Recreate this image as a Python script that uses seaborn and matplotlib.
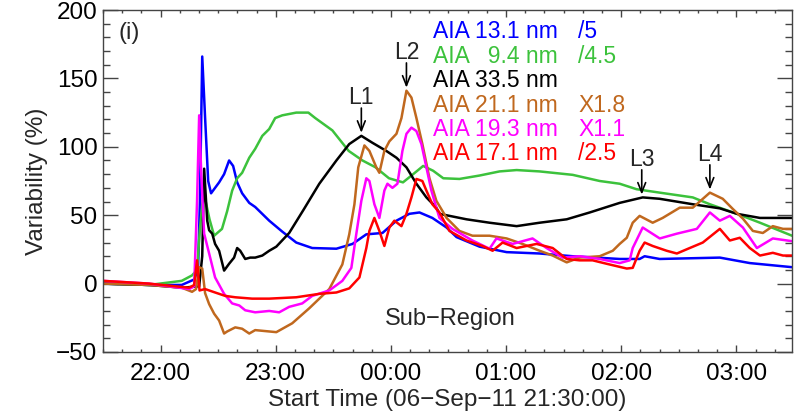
# Variability curves for the six AIA bands (sub-region), 06-Sep-11 flare
import seaborn as sns
import matplotlib.pyplot as plt
import matplotlib.dates as mdates
import pandas as pd
import numpy as np

# minutes after 21:30:00 and variability (%)
blue_t = [0, 24, 41, 47.5, 49.5, 50.5, 51.7, 53.2, 54.8, 56.3, 60.5, 63.1, 65.7, 67.8, 69.9, 72.5, 76.2, 79.3,
          86.6, 93.4, 100.7, 109, 121.6, 130, 137.2, 145.6, 152.9, 159.6, 164.9, 171.6, 179, 184.2, 196.2,
          210.3, 227.5, 244.7, 269.2, 279.6, 282.2, 290, 321.4, 337, 359]
blue_v = [0, -1, -1, 3, 10, 60, 166, 121, 75, 66, 74, 80, 90, 86, 74, 66, 59, 56,
          46, 38, 30, 26, 25.5, 29, 36, 37, 46, 51, 52, 48, 41, 34, 27,
          23, 22, 20, 18, 18, 20, 18, 19, 15, 12]

green_t = [0, 24, 41, 46.4, 49, 50.5, 52, 53.5, 55.5, 57.9, 62, 64.7, 67.3, 69.9, 72.5, 76.2, 79.3, 83, 86.6,
           89.7, 93.4, 100.7, 107, 110.6, 119.5, 128, 135.2, 142, 149, 156.3, 161.6, 166.8, 172, 177.3, 185.7,
           196.2, 206.6, 215.5, 227.5, 244.7, 258.8, 269.2, 278, 290, 307.3, 316.2, 330.3, 342.3, 359]
green_v = [0, -1, 2, 6, 10, 40, 62, 60, 47, 35, 40, 53, 68, 77, 81, 92, 98.5, 108, 113,
           121, 123, 125, 125, 121, 112, 97, 90, 85, 77, 74, 80, 86, 82.5, 77, 76.5,
           79, 82, 83, 82, 79.5, 75, 73, 69, 66.5, 63, 58, 51, 44.5, 35]

black_t = [0, 24, 41.2, 50.1, 51.7, 52.7, 54.3, 55.3, 56.9, 58.4, 60.5, 63.1, 65.7, 68.3, 69.9, 71.5, 74.1,
           76.7, 79.3, 83, 86.6, 90.3, 97, 104.5, 112.7, 121.6, 128.3, 134.6, 140.3, 147.6, 152.9, 158.1,
           163.3, 168.5, 173.7, 175.3, 189.4, 201.4, 215.5, 227.5, 241.6, 253.6, 269.2, 281.2, 290, 307.3,
           321.4, 330.3, 342.3, 359]
black_v = [0, -1, -3, -2, 20, 84, 46, 39, 36.5, 29, 24, 9.5, 14.5, 19, 26, 24, 18,
           19, 19, 20.5, 24, 27, 37, 54, 73, 90, 102, 108, 103, 97, 92, 85,
           73, 63, 55.5, 51, 47, 44.5, 42, 44.5, 47, 52, 59, 63, 62, 58,
           55, 51, 48, 48]

orange_t = [0, 24, 41, 46.4, 48.5, 50.1, 51.7, 53.2, 55.3, 57.9, 60.5, 63.1, 64.7, 68.9, 72.5, 76.2, 79.3,
            86.6, 90.3, 98.6, 107.5, 117.9, 124.7, 128.3, 131, 133, 136.2, 138.8, 142.4, 144, 146.6, 149.2,
            152.9, 155.5, 158.1, 160.7, 163.3, 166.4, 170.1, 173.7, 176.9, 179, 185.7, 192.5, 201.4, 210.3,
            218.6, 227.5, 234.3, 241.6, 248.3, 258.8, 265.6, 269.2, 272.9, 276, 279.6, 286.4, 291.6, 300.5,
            307.3, 316.2, 322.9, 328.2, 333.4, 338.6, 343.8, 349, 354.3, 359]
orange_v = [0, -1, -3, -6, -4, 12, 11, -7, -15, -22, -27, -36.5, -35, -32, -33, -36.5, -34,
            -35, -35.5, -29, -18, -4, 14, 36, 58, 85, 101, 97, 85, 81, 97, 104,
            109.5, 121, 141, 136, 121, 102, 77, 60.5, 53, 48, 38.5, 35, 35, 33,
            29, 24, 20.5, 15.5, 19, 20, 24, 29, 33.5, 44.5, 49.5, 44.5, 48, 55.5,
            55.5, 66.5, 62, 54.5, 47.5, 38.5, 37, 42, 40, 40]

magenta_t = [0, 24, 44.9, 47.5, 49, 50.1, 51.2, 52.7, 55.3, 58.4, 63.1, 67.3, 71, 74.1, 79.3, 86.6, 91.8,
             97, 103.8, 109, 117.9, 124.7, 129.4, 132, 134.6, 137.2, 138.8, 141.4, 144, 146.6, 148.2, 150.8,
             153.4, 156, 158.1, 160.7, 163.3, 165.9, 168.5, 171.1, 173.7, 175.3, 182.1, 192.5, 201.4, 205,
             213.4, 223.8, 231.1, 239.5, 248.3, 258.8, 269.2, 274.4, 276, 281.2, 290.1, 299, 309.4, 316.2,
             321.4, 326.6, 333.4, 340.7, 349, 359]
magenta_v = [2, 0, -4, -2, 60, 123, 80, 36.5, 22, 4.5, -7.5, -14.5, -16, -19.5, -21, -20, -21,
             -17, -14.5, -9, -5, 2, 11.5, 36.5, 60.5, 77, 75, 58, 48, 68, 73, 70,
             73, 97, 109.5, 114, 111.5, 102, 85, 68, 55.5, 48, 40, 31.5, 25.5, 33,
             29, 33, 26, 19, 20, 18, 15, 17, 26, 41, 33, 36.5, 40, 52,
             46, 49.5, 41, 26, 33, 31]

red_t = [0, 24, 44.9, 47.5, 49, 50.3, 53.2, 58.4, 63.7, 68.9, 77.7, 86.6, 100.7, 112.7, 121.6, 128.3, 133.6,
         137.2, 138.8, 141.4, 144, 146.6, 149.2, 151.8, 155.5, 158.1, 160.7, 163.3, 166.4, 168.5, 171.6,
         175.3, 180.5, 189.4, 197.7, 203, 208.2, 215.5, 225.9, 234.3, 241.6, 248.3, 255.1, 262.4, 272.9,
         276, 279.6, 282.2, 286.4, 293.7, 299, 305.7, 312.5, 321.4, 326.6, 331.8, 337, 342.3, 349, 354.3, 359]
red_v = [2, 0, -3, -1, 17, -5, -4, -6.5, -9, -10, -11, -11, -10, -7.5, -6.5, -3.5, 4.5,
         26, 38.5, 48, 38.5, 27.5, 41, 46, 42, 51, 63, 76.5, 75, 68, 58,
         52, 38.5, 31.5, 27.5, 24, 30, 26, 29, 26, 18, 17, 17, 14.5, 11,
         11.5, 24, 30, 27.5, 24, 22, 26, 30, 40, 31.5, 33.5, 26, 20.5, 22.5, 20.5, 20.5]

bands = ['13.1', '9.4', '33.5', '21.1', '19.3', '17.1']
band_labels = ['AIA 13.1 nm', 'AIA   9.4 nm', 'AIA 33.5 nm', 'AIA 21.1 nm', 'AIA 19.3 nm', 'AIA 17.1 nm']
band_factors = ['/5', '/4.5', '', 'X1.8', 'X1.1', '/2.5']
colors = ['#0000ff', '#3cc23c', '#000000', '#c0681e', '#ff00ff', '#ff0000']
series = [(blue_t, blue_v), (green_t, green_v), (black_t, black_v),
          (orange_t, orange_v), (magenta_t, magenta_v), (red_t, red_v)]

# features marked with arrows: label, band, minutes after start
marks = [('L1', '33.5', 134.6), ('L2', '21.1', 158.1), ('L3', '33.5', 280.7), ('L4', '21.1', 316.2)]

start = pd.Timestamp('2011-09-06 21:30:00')

frames = []
for b, (t, v) in zip(bands, series):
    frames.append(pd.DataFrame({'time': start + pd.to_timedelta(t, unit='min'), 'var': v, 'band': b}))
df = pd.concat(frames, ignore_index=True)

sns.set_style('ticks')
plt.rcParams['font.family'] = ['Liberation Sans', 'DejaVu Sans']

fig = plt.figure(figsize=(7.96, 4.17), dpi=100)
ax = fig.add_axes([0.1294, 0.1559, 0.8656, 0.8201])

sns.lineplot(data=df, x='time', y='var', hue='band', hue_order=bands,
             palette=dict(zip(bands, colors)), estimator=None, sort=False,
             linewidth=1.8, legend=False, ax=ax)

ax.set_xlim(start, start + pd.Timedelta(minutes=359))
ax.set_ylim(-50, 200)
ax.xaxis.set_major_locator(mdates.HourLocator())
ax.xaxis.set_minor_locator(mdates.MinuteLocator(byminute=range(0, 60, 10)))
ax.xaxis.set_major_formatter(mdates.DateFormatter('%H:%M'))
ax.yaxis.set_major_locator(plt.MultipleLocator(50))
ax.yaxis.set_minor_locator(plt.MultipleLocator(10))

edge = '#444444'
for s in ax.spines.values():
    s.set_color(edge)
    s.set_linewidth(1.0)
ax.tick_params(axis='both', which='both', direction='in', top=True, right=True, colors=edge,
               labelcolor='black', labelsize=17.5)
ax.tick_params(axis='x', which='major', length=5, width=1, pad=8)
ax.tick_params(axis='x', which='minor', length=2.5, width=1)
ax.tick_params(axis='y', which='major', length=10.5, width=1, pad=4)
ax.tick_params(axis='y', which='minor', length=5, width=1)

ax.set_xlabel('Start Time (06\u2212Sep\u221211 21:30:00)', fontsize=17.5, labelpad=3)
ax.set_ylabel('Variability (%)', fontsize=17.5, labelpad=6)

# band list with scaling factors
for i, (lab, fac, c) in enumerate(zip(band_labels, band_factors, colors)):
    y = (352 - (38 + 24.5 * i)) / 342
    ax.text(0.479, y, lab, color=c, fontsize=16.5, transform=ax.transAxes, va='baseline')
    ax.text(0.69, y, fac, color=c, fontsize=16.5, transform=ax.transAxes, va='baseline')

ax.text(0.0218, 0.915, '(i)', fontsize=17, transform=ax.transAxes, va='baseline')
ax.text(0.5036, 0.079, 'Sub\u2212Region', fontsize=17, transform=ax.transAxes,
        ha='center', va='baseline')

lookup = dict(zip(bands, series))
for lab, b, m in marks:
    t, v = lookup[b]
    val = np.interp(m, t, v)
    when = start + pd.Timedelta(minutes=m)
    ax.annotate('', xy=(when, val), xytext=(0, 20), textcoords='offset points',
                arrowprops=dict(arrowstyle='->,head_length=0.7,head_width=0.28', color='black',
                                lw=1.2, shrinkA=0, shrinkB=2.2, mutation_scale=10))
    ax.annotate(lab, xy=(when, val), xytext=(0, 23), textcoords='offset points',
                ha='center', va='baseline', fontsize=16.5)

fig.savefig('out.png', dpi=100)
